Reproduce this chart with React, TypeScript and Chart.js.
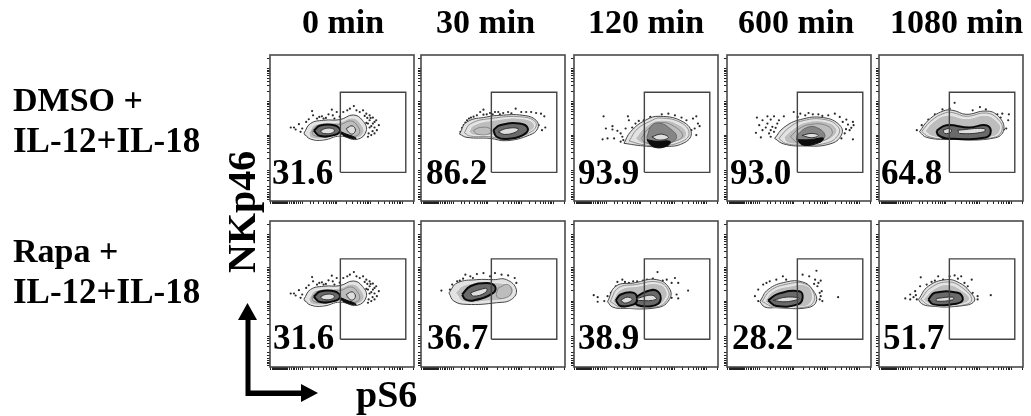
import React, { useEffect, useRef } from "react";
import { Chart, registerables } from "chart.js";

Chart.register(...registerables);

type Pt = [number, number];

const timeLabels = ["0 min", "30 min", "120 min", "600 min", "1080 min"];
const rowLines = [["DMSO +", "IL-12+IL-18"], ["Rapa +", "IL-12+IL-18"]];
const percentRow1 = ["31.6", "86.2", "93.9", "93.0", "64.8"];
const percentRow2 = ["31.6", "36.7", "38.9", "28.2", "51.7"];

// Axis channels (both axes run 0..438 / 0..443) with biexponential tick marks
const xChannelTicks = [3, 7, 10, 13, 16, 19, 22, 25, 28, 31, 34, 37, 40, 43, 46, 49, 52, 58, 64, 70, 76, 82, 88, 94, 98, 123, 131, 149, 162, 172, 180, 187, 193, 198, 203, 234, 252, 265, 275, 283, 290, 296, 301, 306, 331, 349, 362, 372, 380, 387, 393, 398, 403, 436];
const yChannelTicks = [5, 10, 15, 20, 25, 35, 45, 62, 72, 80, 87, 92, 130, 148, 160, 170, 178, 184, 190, 195, 200, 232, 250, 262, 272, 279, 286, 292, 297, 302, 332, 350, 362, 372, 380, 386, 392, 397, 402, 432];

const gateX = [214, 413];
const gateYRow1 = [87, 330];
const gateYRow2 = [84, 328];

// 0 min (both rows show the same sample)
const t0Outer: Pt[] = [[103, 205], [123, 235], [163, 245], [213, 247], [253, 261], [281, 245], [293, 213], [265, 187], [213, 197], [163, 185], [123, 188]];
const t0Mid: Pt[] = [[118, 207], [138, 232], [213, 240], [250, 252], [275, 236], [285, 207], [258, 190], [213, 201], [163, 189], [125, 192]];
const t0Fine: Pt[] = [[128, 213], [148, 230], [213, 232], [246, 243], [266, 228], [272, 206], [252, 196], [213, 208], [163, 196], [132, 200]];
const t0DarkA: Pt[] = [[133, 213], [153, 229], [198, 229], [213, 213], [195, 200], [153, 197]];
const t0HoleA: Pt[] = [[153, 213], [173, 221], [195, 217], [191, 207], [163, 205]];
const t0HoleB: Pt[] = [[232, 220], [250, 228], [260, 215], [250, 203], [238, 210]];
const t0Black: Pt[] = [[212, 212], [232, 203], [252, 196], [262, 190], [240, 192], [216, 204]];
const t0Dots: Pt[] = [[63, 223], [73, 223], [78, 217], [88, 233], [93, 210], [98, 220], [108, 202], [128, 273], [131, 260], [143, 250], [158, 257], [163, 250], [178, 263], [188, 277], [191, 260], [203, 270], [223, 270], [235, 275], [243, 280], [255, 288], [263, 275], [273, 270], [283, 275], [293, 265], [303, 260], [313, 253], [323, 245], [331, 230], [325, 215], [318, 205], [308, 200], [298, 195], [303, 223], [313, 235], [293, 237], [283, 200], [303, 245], [298, 235], [308, 227], [318, 223], [296, 252], [288, 258], [306, 252], [318, 240], [300, 205], [312, 212], [110, 240], [118, 248], [150, 255], [170, 252], [196, 250], [212, 256]];

// 30 min, DMSO
const d30Outer: Pt[] = [[117, 203], [140, 240], [200, 255], [240, 260], [310, 260], [350, 245], [355, 220], [330, 200], [260, 183], [210, 190], [140, 193]];
const d30Mid: Pt[] = [[145, 210], [160, 230], [220, 245], [310, 250], [345, 230], [320, 205], [260, 190], [210, 200], [160, 200]];
const d30Fine: Pt[] = [[132, 207], [150, 234], [210, 250], [310, 255], [349, 238], [338, 212], [262, 187], [210, 195], [150, 197]];
const d30DarkA: Pt[] = [[220, 215], [240, 230], [300, 235], [325, 220], [310, 200], [260, 188], [230, 195]];
const d30HoleA: Pt[] = [[235, 210], [260, 220], [295, 220], [290, 210], [255, 202]];
const d30HoleB: Pt[] = [[160, 215], [180, 223], [210, 220], [210, 205], [170, 203]];
const d30Dots: Pt[] = [[120, 210], [130, 230], [140, 245], [152, 253], [170, 260], [180, 270], [190, 277], [210, 267], [225, 270], [235, 270], [250, 267], [265, 270], [288, 280], [305, 270], [320, 270], [335, 270], [350, 267], [365, 265], [375, 257], [378, 223], [368, 215], [358, 230], [130, 200], [240, 263], [200, 263], [125, 222], [135, 238], [146, 250], [160, 256], [190, 262], [218, 263], [275, 266]];

// 120 min, DMSO
const d120Outer: Pt[] = [[152, 175], [172, 210], [217, 245], [262, 257], [332, 240], [357, 205], [332, 175], [272, 165], [212, 167]];
const d120Mid: Pt[] = [[187, 190], [217, 225], [262, 245], [322, 230], [342, 200], [312, 180], [252, 170], [207, 175]];
const d120FineA: Pt[] = [[168, 182], [192, 218], [232, 242], [262, 252], [328, 236], [350, 203], [322, 178], [262, 168], [210, 171]];
const d120FineB: Pt[] = [[205, 190], [225, 218], [262, 238], [305, 226], [330, 198], [302, 180], [250, 172], [215, 178]];
const d120Soft: Pt[] = [[222, 195], [237, 230], [262, 236], [292, 220], [312, 195], [292, 175], [252, 167], [227, 175]];
const d120Black: Pt[] = [[222, 186], [252, 181], [292, 181], [282, 166], [242, 164]];
const d120HoleA: Pt[] = [[237, 195], [267, 203], [287, 192], [257, 185]];
const d120Dots: Pt[] = [[90, 257], [97, 220], [117, 227], [117, 217], [87, 187], [102, 190], [122, 190], [132, 213], [142, 205], [147, 195], [157, 220], [164, 257], [167, 245], [177, 223], [187, 235], [197, 243], [212, 245], [232, 255], [267, 263], [287, 265], [307, 260], [327, 253], [342, 245], [362, 250], [372, 257], [377, 235], [382, 227], [367, 220], [372, 200], [357, 215], [150, 185], [142, 180]];

// 600 min, DMSO
const d600Outer: Pt[] = [[145, 190], [173, 223], [223, 247], [293, 253], [343, 230], [348, 200], [313, 173], [233, 167], [173, 173]];
const d600Mid: Pt[] = [[173, 193], [203, 220], [243, 240], [303, 240], [333, 220], [328, 200], [293, 180], [223, 173], [183, 177]];
const d600FineA: Pt[] = [[158, 190], [188, 222], [232, 244], [298, 247], [338, 225], [338, 200], [303, 176], [228, 170], [178, 175]];
const d600FineB: Pt[] = [[193, 195], [220, 220], [258, 233], [300, 230], [320, 212], [310, 192], [278, 180], [218, 176]];
const d600Soft: Pt[] = [[213, 200], [243, 223], [273, 223], [298, 200], [283, 183], [233, 173], [213, 183]];
const d600Black: Pt[] = [[213, 186], [253, 186], [293, 191], [283, 178], [233, 169]];
const d600HoleA: Pt[] = [[228, 199], [258, 205], [278, 199], [258, 192]];
const d600Dots: Pt[] = [[91, 253], [108, 245], [123, 257], [133, 247], [143, 257], [158, 245], [173, 257], [203, 270], [223, 265], [248, 267], [261, 263], [278, 263], [308, 260], [328, 265], [343, 255], [363, 247], [383, 240], [385, 230], [373, 215], [358, 205], [348, 190], [383, 187], [98, 230], [118, 223], [108, 215], [133, 215], [88, 207], [103, 193], [133, 195], [143, 210], [153, 235], [123, 235], [138, 225], [128, 205], [148, 222], [215, 255], [238, 260], [290, 258], [352, 240], [368, 232], [362, 218], [378, 222]];

// 1080 min, DMSO
const d1080Outer: Pt[] = [[123, 210], [150, 245], [195, 273], [225, 275], [265, 263], [325, 273], [360, 260], [380, 220], [355, 192], [215, 187], [145, 193]];
const d1080Mid: Pt[] = [[140, 213], [165, 240], [205, 260], [265, 250], [325, 260], [355, 245], [370, 220], [345, 195], [215, 190], [160, 197]];
const d1080Fine: Pt[] = [[130, 211], [158, 243], [200, 267], [225, 268], [265, 257], [325, 267], [358, 252], [375, 220], [350, 193], [215, 188], [152, 195]];
const d1080DarkA: Pt[] = [[175, 213], [205, 230], [275, 223], [325, 230], [340, 213], [325, 193], [205, 190], [180, 200]];
const d1080HoleA: Pt[] = [[195, 215], [215, 220], [220, 210], [200, 205]];
const d1080HoleB: Pt[] = [[240, 215], [320, 220], [320, 210], [245, 205]];
const d1080Dots: Pt[] = [[115, 215], [130, 230], [150, 247], [170, 263], [193, 278], [230, 298], [215, 280], [285, 275], [307, 285], [325, 278], [360, 263], [375, 265], [395, 263], [393, 245], [370, 253], [380, 217], [387, 220]];

// 30 min, Rapa
const r30Outer: Pt[] = [[85, 225], [110, 255], [170, 265], [220, 265], [260, 265], [290, 235], [275, 205], [230, 195], [140, 190], [100, 200]];
const r30Mid: Pt[] = [[105, 225], [130, 248], [190, 255], [240, 255], [275, 245], [280, 225], [260, 208], [200, 200], [130, 198]];
const r30Fine: Pt[] = [[235, 240], [265, 250], [275, 225], [250, 208], [230, 215]];
const r30DarkA: Pt[] = [[125, 220], [150, 245], [200, 255], [225, 245], [220, 225], [160, 202], [135, 205]];
const r30HoleA: Pt[] = [[150, 225], [180, 235], [200, 238], [195, 225], [160, 215]];
const r30Dots: Pt[] = [[62, 232], [88, 235], [95, 250], [110, 260], [135, 280], [150, 275], [170, 282], [190, 285], [210, 275], [225, 285], [245, 280], [265, 278], [285, 270], [290, 255], [100, 208], [110, 220], [95, 215], [118, 262], [128, 268], [158, 270]];

// 120 min, Rapa
const r120Outer: Pt[] = [[102, 198], [127, 245], [182, 255], [252, 265], [292, 235], [287, 200], [252, 180], [152, 178], [117, 182]];
const r120Mid: Pt[] = [[117, 200], [142, 235], [192, 245], [257, 252], [282, 230], [277, 205], [252, 185], [142, 182]];
const r120Fine: Pt[] = [[110, 199], [135, 240], [187, 250], [255, 258], [287, 232], [282, 202], [252, 183], [147, 180]];
const r120DarkA: Pt[] = [[127, 202], [142, 220], [182, 225], [192, 205], [182, 190], [142, 185]];
const r120DarkB: Pt[] = [[182, 208], [222, 230], [254, 230], [262, 200], [237, 185], [192, 188]];
const r120HoleA: Pt[] = [[142, 202], [162, 212], [177, 205], [157, 194]];
const r120HoleB: Pt[] = [[192, 208], [237, 218], [250, 205], [197, 202]];
const r120Dots: Pt[] = [[60, 218], [72, 212], [72, 198], [92, 200], [112, 225], [127, 245], [132, 258], [147, 265], [167, 255], [192, 260], [222, 265], [254, 288], [282, 265], [307, 270], [297, 255], [292, 230], [317, 255], [347, 232], [312, 220], [317, 208], [297, 210], [102, 215], [155, 258], [180, 260], [210, 262], [240, 268], [270, 262]];

// 600 min, Rapa
const r600Outer: Pt[] = [[100, 198], [125, 235], [180, 258], [230, 258], [260, 235], [272, 200], [245, 180], [150, 180], [115, 182]];
const r600Mid: Pt[] = [[115, 200], [140, 230], [190, 245], [240, 248], [260, 220], [250, 190], [220, 182], [140, 182]];
const r600Fine: Pt[] = [[107, 199], [132, 232], [185, 252], [235, 253], [262, 228], [262, 195], [233, 181], [145, 181]];
const r600DarkA: Pt[] = [[125, 202], [155, 222], [220, 230], [230, 210], [215, 190], [150, 185]];
const r600HoleA: Pt[] = [[140, 202], [180, 212], [220, 208], [180, 198]];
const r600Dots: Pt[] = [[85, 215], [95, 235], [110, 250], [130, 260], [170, 275], [180, 265], [230, 280], [272, 292], [250, 275], [268, 265], [285, 262], [275, 245], [288, 230], [282, 205], [338, 212], [95, 200], [105, 202], [290, 200], [265, 252], [278, 255], [282, 225], [285, 215], [120, 255], [150, 265]];

// 1080 min, Rapa
const r1080Outer: Pt[] = [[120, 205], [150, 245], [205, 265], [245, 255], [275, 230], [290, 200], [245, 185], [155, 185], [130, 192]];
const r1080Mid: Pt[] = [[135, 205], [165, 235], [210, 250], [255, 230], [275, 205], [240, 188], [160, 188]];
const r1080Fine: Pt[] = [[127, 205], [157, 240], [207, 258], [250, 243], [282, 203], [243, 186], [157, 186]];
const r1080DarkA: Pt[] = [[150, 205], [170, 225], [240, 225], [255, 205], [235, 192], [165, 190]];
const r1080HoleA: Pt[] = [[175, 208], [225, 212], [225, 204], [175, 200]];
const r1080Dots: Pt[] = [[80, 208], [95, 220], [105, 212], [110, 230], [125, 245], [127, 272], [145, 250], [160, 258], [180, 275], [195, 265], [215, 275], [230, 278], [250, 275], [260, 255], [282, 265], [270, 245], [285, 225], [300, 215], [300, 205], [340, 218], [95, 205], [115, 205], [112, 218], [170, 262], [240, 268]];

interface PanelData { outer: Pt[]; mid: Pt[]; fine: Pt[][]; soft: Pt[][]; dark: Pt[][]; black: Pt[][]; holes: Pt[][]; dots: Pt[]; }

const t0Panel: PanelData = { outer: t0Outer, mid: t0Mid, fine: [t0Fine], soft: [], dark: [t0DarkA], black: [t0Black], holes: [t0HoleA, t0HoleB], dots: t0Dots };
const row1Panels: PanelData[] = [
  t0Panel,
  { outer: d30Outer, mid: d30Mid, fine: [d30Fine, d30HoleB], soft: [], dark: [d30DarkA], black: [], holes: [d30HoleA], dots: d30Dots },
  { outer: d120Outer, mid: d120Mid, fine: [d120FineA, d120FineB], soft: [d120Soft], dark: [], black: [d120Black], holes: [d120HoleA], dots: d120Dots },
  { outer: d600Outer, mid: d600Mid, fine: [d600FineA, d600FineB], soft: [d600Soft], dark: [], black: [d600Black], holes: [d600HoleA], dots: d600Dots },
  { outer: d1080Outer, mid: d1080Mid, fine: [d1080Fine], soft: [], dark: [d1080DarkA], black: [], holes: [d1080HoleA, d1080HoleB], dots: d1080Dots },
];
const row2Panels: PanelData[] = [
  t0Panel,
  { outer: r30Outer, mid: r30Mid, fine: [r30Fine], soft: [], dark: [r30DarkA], black: [], holes: [r30HoleA], dots: r30Dots },
  { outer: r120Outer, mid: r120Mid, fine: [r120Fine], soft: [], dark: [r120DarkA, r120DarkB], black: [], holes: [r120HoleA, r120HoleB], dots: r120Dots },
  { outer: r600Outer, mid: r600Mid, fine: [r600Fine], soft: [], dark: [r600DarkA], black: [], holes: [r600HoleA], dots: r600Dots },
  { outer: r1080Outer, mid: r1080Mid, fine: [r1080Fine], soft: [], dark: [r1080DarkA], black: [], holes: [r1080HoleA], dots: r1080Dots },
];

const panelLefts = [269, 420, 573, 726, 878];
const rowTops = [54, 220];
const panelW = 146;
const panelH = 148;
const pad = 3;

const toXY = (pts: Pt[]) => pts.map(([x, y]) => ({ x, y }));
const closed = (pts: Pt[]) => toXY([...pts, pts[0]]);

const framePlugin = {
  id: "frame",
  afterDraw(chart: any) {
    const { ctx, chartArea: a } = chart;
    ctx.save();
    ctx.strokeStyle = "#4a4a4a";
    ctx.lineWidth = 1.6;
    ctx.strokeRect(a.left, a.top, a.right - a.left, a.bottom - a.top);
    ctx.restore();
  },
};

function Panel({ data, left, top, gateY }: { data: PanelData; left: number; top: number; gateY: number[] }) {
  const ref = useRef<HTMLCanvasElement>(null);
  useEffect(() => {
    if (!ref.current) return;
    const contour = (pts: Pt[], fill: string | false, stroke: string, w: number, order: number) => ({
      data: closed(pts),
      showLine: true,
      tension: 0.45,
      pointRadius: 0,
      fill: fill ? "shape" : false,
      backgroundColor: fill || "transparent",
      borderColor: stroke,
      borderWidth: w,
      order,
    });
    const datasets: any[] = [
      {
        data: toXY(data.dots),
        pointRadius: 1.1,
        pointBackgroundColor: "#2a2a2a",
        pointBorderWidth: 0,
        showLine: false,
        order: 12,
      },
      contour(data.outer, "#e2e2e2", "#444", 1, 11),
      contour(data.mid, "#bdbdbd", "#ededed", 1, 10),
      ...data.fine.map((p) => contour(p, false, "#6e6e6e", 0.7, 9)),
      ...data.soft.map((p) => contour(p, "#858585", "#5a5a5a", 0.8, 8)),
      ...data.dark.map((p) => contour(p, "#6a6a6a", "#0a0a0a", 2, 7)),
      ...data.black.map((p) => contour(p, "#0d0d0d", "#0d0d0d", 1, 6)),
      ...data.holes.map((p) => contour(p, "#dedede", "#333", 1, 5)),
      {
        data: toXY([
          [gateX[0], gateY[0]],
          [gateX[1], gateY[0]],
          [gateX[1], gateY[1]],
          [gateX[0], gateY[1]],
          [gateX[0], gateY[0]],
        ]),
        showLine: true,
        fill: false,
        tension: 0,
        pointRadius: 0,
        borderColor: "#444",
        borderWidth: 1.4,
        order: 1,
      },
    ];
    const axis = (max: number, ticks: number[], position: string) => ({
      type: "linear",
      position,
      min: 0,
      max,
      afterBuildTicks: (s: any) => {
        s.ticks = ticks.map((value) => ({ value }));
      },
      ticks: { display: false, autoSkip: false },
      grid: { drawOnChartArea: false, drawTicks: true, tickLength: 3, tickColor: "#222", tickWidth: 1 },
      border: { display: false },
    });
    const chart = new Chart(ref.current, {
      type: "scatter",
      data: { datasets },
      plugins: [framePlugin],
      options: {
        animation: false,
        responsive: false,
        layout: { padding: { left: 0, top: pad, right: pad, bottom: 0 } },
        plugins: { legend: { display: false }, tooltip: { enabled: false } },
        scales: {
          x: axis(438, xChannelTicks, "bottom"),
          y: axis(443, yChannelTicks, "left"),
        },
      },
    } as any);
    return () => chart.destroy();
  }, [data, gateY]);
  return (
    <canvas
      ref={ref}
      width={panelW + 2 * pad}
      height={panelH + 2 * pad}
      style={{ position: "absolute", left: left - pad, top: top - pad, width: panelW + 2 * pad, height: panelH + 2 * pad, filter: "blur(0.45px)" }}
    />
  );
}

const serif = "'Liberation Serif', serif";

export default function App() {
  const headerX = [302, 436, 588, 738, 890];
  const pct1X = [272, 426, 578, 730, 881];
  const pct2X = [273, 427, 578, 732, 883];
  return (
    <div style={{ position: "fixed", left: 0, top: 0, width: 1031, height: 416, overflow: "hidden", background: "#fff" }}>
      {row1Panels.map((d, i) => (
        <Panel key={"a" + i} data={d} left={panelLefts[i]} top={rowTops[0]} gateY={gateYRow1} />
      ))}
      {row2Panels.map((d, i) => (
        <Panel key={"b" + i} data={d} left={panelLefts[i]} top={rowTops[1]} gateY={gateYRow2} />
      ))}
      <svg width={1031} height={416} style={{ position: "absolute", left: 0, top: 0, filter: "blur(0.35px)" }} fontFamily={serif} fontWeight="bold" fill="#000">
        {timeLabels.map((t, i) => (
          <text key={t} x={headerX[i]} y={33} fontSize={34}>{t}</text>
        ))}
        <text x={13} y={111} fontSize={34}>{rowLines[0][0]}</text>
        <text x={13} y={152} fontSize={35}>{rowLines[0][1]}</text>
        <text x={13} y={262} fontSize={34}>{rowLines[1][0]}</text>
        <text x={13} y={303} fontSize={35}>{rowLines[1][1]}</text>
        {percentRow1.map((t, i) => (
          <text key={"p" + i} x={pct1X[i]} y={184} fontSize={35}>{t}</text>
        ))}
        {percentRow2.map((t, i) => (
          <text key={"q" + i} x={pct2X[i]} y={349} fontSize={35}>{t}</text>
        ))}
        <text transform="translate(255 273) rotate(-90)" fontSize={40}>NKp46</text>
        <text x={356} y={407} fontSize={38}>pS6</text>
        <path d="M245.5 396 V320 H238 L247.5 303 L257 320 H250.5 V390.5 H301 V384 L318 393 L301 402 V396 Z" fill="#000" />
      </svg>
    </div>
  );
}
